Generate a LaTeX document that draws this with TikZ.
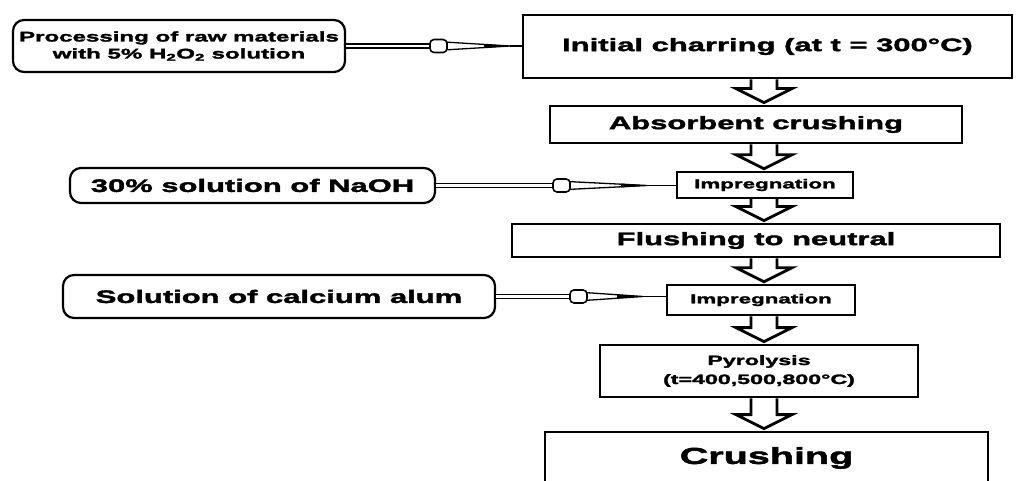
\documentclass[tikz,border=0pt]{standalone}
\usepackage{fontspec}
\newfontfamily\flowfont[FakeStretch=1.72,FakeBold=2.2]{Liberation Sans Bold}
\usetikzlibrary{calc}
\newcommand{\fsz}[2]{\fontsize{#1}{#2}\selectfont}

% block arrow between two steps of the main column
\newcommand{\downblock}[2]{%
  \draw[blockarrow] let \p1=(#1.south), \p2=(#2.north) in
    (751pt,\y1) -- (751pt,\y2+16pt) -- (736pt,\y2+16pt) -- (764pt,\y2+2pt)
    -- (792pt,\y2+16pt) -- (777pt,\y2+16pt) -- (777pt,\y1);
}
% feed arrow: source, target, bulge x, tip x
\newcommand{\feedarrow}[4]{%
  \draw[feedpipe] let \p1=(#1.east) in (#1.east) -- (#3pt+1pt,\y1);
  \draw[feedtip] let \p1=(#1.east) in
    (#3pt+14pt,\y1+4pt) -- (#4pt,\y1) -- (#3pt+14pt,\y1-4pt) -- cycle;
  \fill let \p1=(#1.east) in
    (#4pt-26pt,\y1+2pt) -- (#4pt,\y1) -- (#4pt-26pt,\y1-2pt) -- cycle;
  \draw[feedbulge] let \p1=(#1.east) in
    (#3pt,\y1-6.5pt) rectangle (#3pt+17pt,\y1+6.5pt);
  \draw[feedtip] let \p1=(#1.east), \p2=(#2.west) in (#4pt,\y1) -- (\x2,\y1);
}

\tikzset{
  stepbox/.style={draw, line width=2.8pt, inner sep=0pt, align=center, font=\flowfont},
  feedbox/.style={draw, line width=2.2pt, rounded corners=11pt, inner sep=0pt, align=center, font=\flowfont},
  blockarrow/.style={line width=2.8pt, line join=miter},
  feedpipe/.style={line width=1.6pt, double, double distance=2.2pt},
  feedbulge/.style={line width=1.6pt, fill=white, rounded corners=4pt},
  feedtip/.style={line width=1.3pt},
}

\begin{document}
\begin{tikzpicture}[x=1pt,y=1pt]
  \fill[white] (0,0) rectangle (1020,480);
  \useasboundingbox (0,0) rectangle (1020,480);

  % main column
  \node[stepbox, minimum width=489, minimum height=63, font={\flowfont\fsz{18}{21}}] (charring) at (767.5,433.5) {Initial charring (at t = 300°C)};
  \node[stepbox, minimum width=412, minimum height=37, font={\flowfont\fsz{18}{21}}] (absorbent) at (756,355.5) {Absorbent crushing};
  \node[stepbox, line width=2.5pt, minimum width=176, minimum height=26, font={\flowfont\fsz{13}{15}}] (impregA) at (765,295) {Impregnation};
  \node[stepbox, minimum width=488, minimum height=33, font={\flowfont\fsz{18}{21}}] (flushing) at (756,239.5) {Flushing to neutral};
  \node[stepbox, line width=2.5pt, minimum width=188, minimum height=30, font={\flowfont\fsz{13}{15}}] (impregB) at (761,180) {Impregnation};
  \node[stepbox, minimum width=318, minimum height=52, font={\flowfont\fsz{13.5}{19}}] (pyrolysis) at (759,109) {Pyrolysis\\(t=400,500,800°C)};
  \node[stepbox, minimum width=443, minimum height=52, font={\flowfont\fsz{23}{26}}] (crushing) at (766.5,22) {Crushing};

  % feeds
  \node[feedbox, minimum width=332, minimum height=52, font={\flowfont\fsz{14}{17}}] (raw) at (179,434) {Processing of raw materials\\with 5\% H\textsubscript{2}O\textsubscript{2} solution};
  \node[feedbox, minimum width=365, minimum height=35, font={\flowfont\fsz{18}{21}}] (naoh) at (252.5,294.5) {30\% solution of NaOH};
  \node[feedbox, minimum width=432, minimum height=43, font={\flowfont\fsz{18}{21}}] (alum) at (279,183.5) {Solution of calcium alum};

  \downblock{charring}{absorbent}
  \downblock{absorbent}{impregA}
  \downblock{impregA}{flushing}
  \downblock{flushing}{impregB}
  \downblock{impregB}{pyrolysis}
  \downblock{pyrolysis}{crushing}

  \feedarrow{raw}{charring}{430}{510}
  \feedarrow{naoh}{impregA}{553}{647}
  \feedarrow{alum}{impregB}{570}{643}
\end{tikzpicture}
\end{document}
